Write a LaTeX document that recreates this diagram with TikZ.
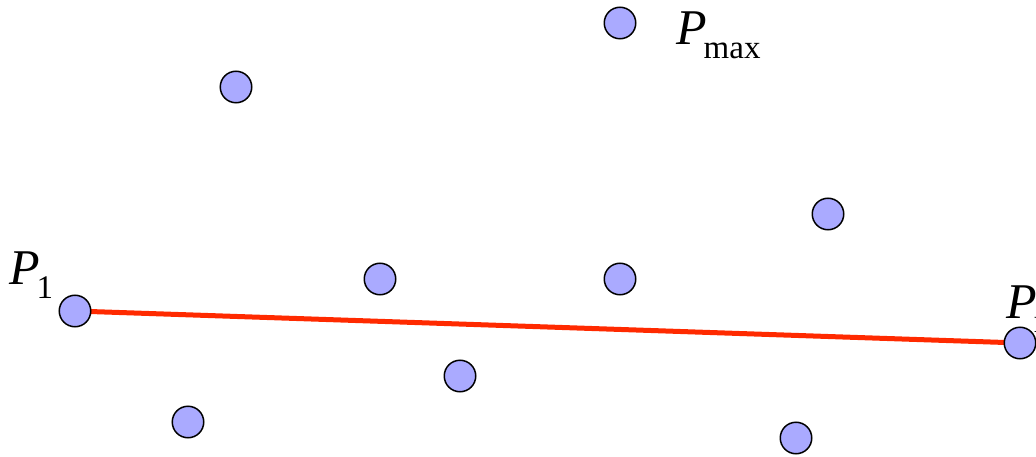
\documentclass[tikz,border=0pt]{standalone}
\usepackage{fontspec}
\setmainfont{Liberation Serif}
\newcommand{\ptlabel}[2]{\fontsize{50}{50}\selectfont\textit{P}\kern#2\raisebox{-14pt}{\fontsize{33}{33}\selectfont #1}}
\begin{document}
\begin{tikzpicture}[x=1pt,y=-1pt]
\definecolor{ptfill}{HTML}{AAAAFF}
\definecolor{hullred}{HTML}{FF2A00}
\tikzset{
  pt/.style={circle,draw=black,line width=1.5pt,fill=ptfill,minimum size=31.5pt,inner sep=0pt},
  lab/.style={inner sep=0pt,anchor=base west},
  hull/.style={draw=hullred,line width=5pt}
}
\useasboundingbox (0,0) rectangle (1036,457);
% labels
\node[lab] (l1) at (9,284) {\ptlabel{1}{-3pt}};
\node[lab] (lmax) at (676,45) {\ptlabel{max}{-3pt}};
\node[lab] (ln) at (1006,318) {\ptlabel{n}{-3pt}};
% line
\coordinate (c1) at (75,311);
\coordinate (cn) at (1020,343);
\draw[hull] (c1) -- (cn);
% points
\node[pt] (p1) at (c1) {};
\node[pt] (pn) at (cn) {};
\node[pt] (pmax) at (620,23) {};
\node[pt] (a) at (236,87) {};
\node[pt] (b) at (828,214) {};
\node[pt] (c) at (380,279) {};
\node[pt] (d) at (620,279) {};
\node[pt] (e) at (460,376) {};
\node[pt] (f) at (188,422) {};
\node[pt] (g) at (796,438) {};
\end{tikzpicture}
\end{document}
